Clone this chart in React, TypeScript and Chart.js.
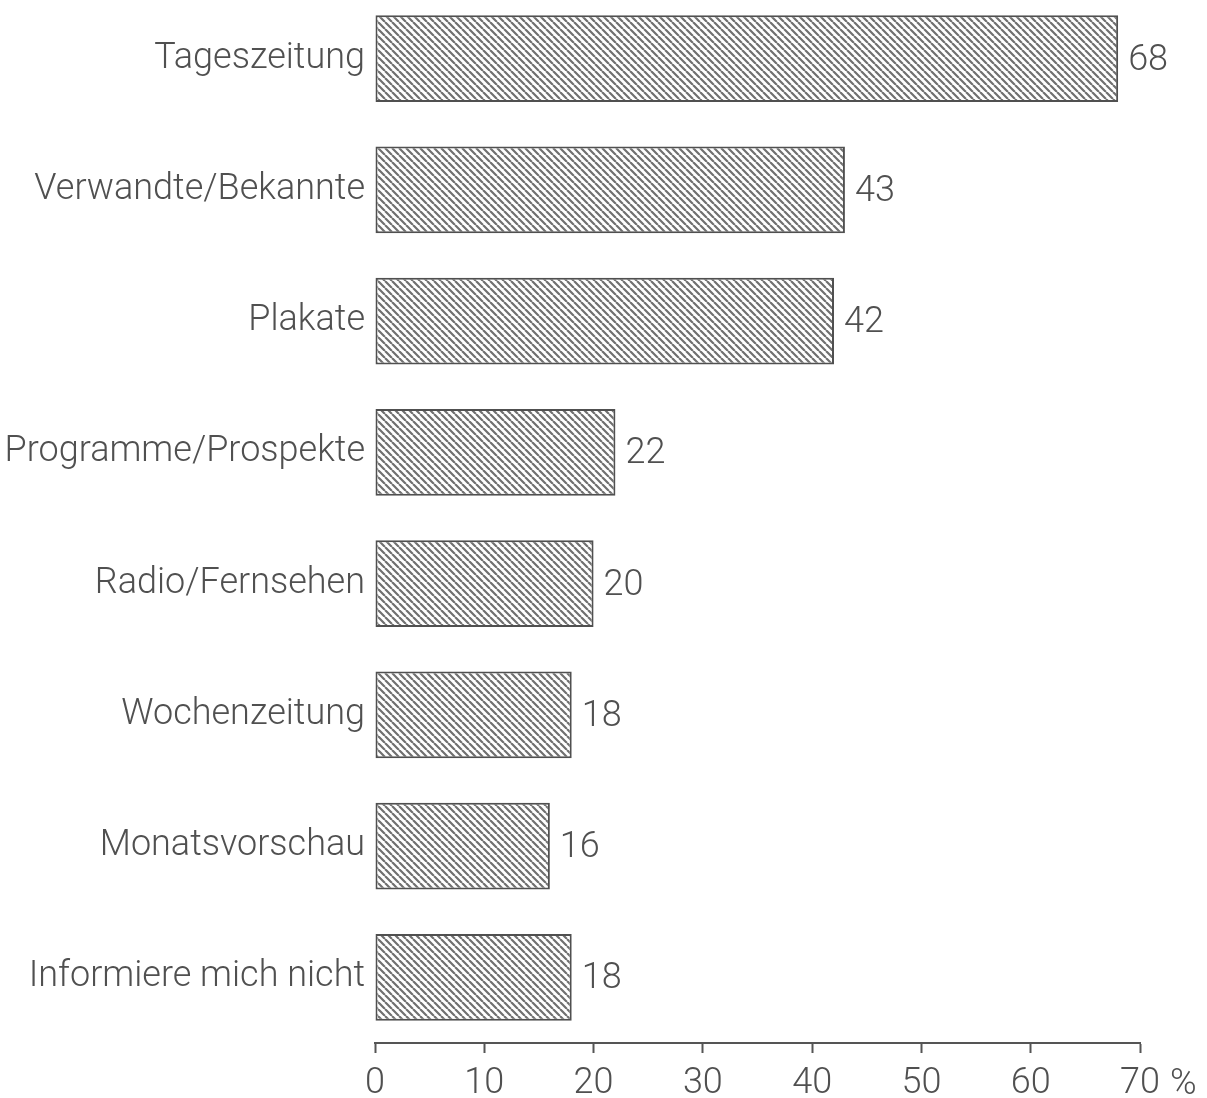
import React, { useEffect, useRef } from "react";
import { Chart, registerables } from "chart.js";

Chart.register(...registerables);

const categories = [
  "Tageszeitung",
  "Verwandte/Bekannte",
  "Plakate",
  "Programme/Prospekte",
  "Radio/Fernsehen",
  "Wochenzeitung",
  "Monatsvorschau",
  "Informiere mich nicht",
];
const values = [68, 43, 42, 22, 20, 18, 16, 18];
const xTicks = [0, 10, 20, 30, 40, 50, 60, 70];
const unitLabel = "%";

const INK = "#505050";
const FONT = "Roboto";

function makeHatch(): CanvasPattern | string {
  const s = 7;
  const c = document.createElement("canvas");
  c.width = s;
  c.height = s;
  const g = c.getContext("2d");
  if (!g) return "#999";
  g.fillStyle = "#ffffff";
  g.fillRect(0, 0, s, s);
  g.strokeStyle = "#707070";
  g.lineWidth = 2.2;
  g.beginPath();
  for (const k of [-s, 0, s]) {
    g.moveTo(k, 0);
    g.lineTo(k + s, s);
  }
  g.stroke();
  const p = g.createPattern(c, "repeat");
  return p || "#999";
}

const valueLabels = {
  id: "valueLabels",
  afterDatasetsDraw(chart: any) {
    const ctx = chart.ctx;
    const meta = chart.getDatasetMeta(0);
    ctx.save();
    ctx.fillStyle = INK;
    ctx.font = `300 36px ${FONT}`;
    ctx.textAlign = "left";
    ctx.textBaseline = "middle";
    meta.data.forEach((bar: any, i: number) => {
      ctx.fillText(String(values[i]), bar.x + 10, bar.y + 2);
    });
    const xs = chart.scales.x;
    const px = xs.getPixelForValue(xTicks[xTicks.length - 1]);
    ctx.textBaseline = "top";
    ctx.fillText(unitLabel, px + 30, xs.top + 24);
    ctx.restore();
  },
};

export default function App() {
  const ref = useRef<HTMLCanvasElement | null>(null);
  useEffect(() => {
    if (!ref.current) return;
    const hatch = makeHatch();
    const chart = new Chart(ref.current, {
      type: "bar",
      data: {
        labels: categories,
        datasets: [
          {
            data: values,
            backgroundColor: hatch as any,
            borderColor: "#505050",
            borderWidth: 2,
            borderSkipped: false,
            categoryPercentage: 1,
            barPercentage: 0.66,
          },
        ],
      },
      options: {
        indexAxis: "y",
        animation: false,
        responsive: false,
        maintainAspectRatio: false,
        layout: { padding: { top: 13, right: 67, left: 0, bottom: 0 } },
        plugins: {
          legend: { display: false },
          tooltip: { enabled: false },
        },
        scales: {
          x: {
            min: 0,
            max: 70,
            afterBuildTicks: (axis: any) => {
              axis.ticks = xTicks.map((v) => ({ value: v }));
            },
            afterFit: (axis: any) => {
              axis.height = 55;
              axis.paddingLeft = 0;
              axis.paddingRight = 0;
            },
            grid: {
              drawOnChartArea: false,
              drawTicks: true,
              tickLength: 10,
              tickWidth: 2,
              tickColor: "#555",
            },
            border: { display: true, color: "#555", width: 2 },
            ticks: {
              color: INK,
              padding: 9,
              font: { family: FONT, size: 36, weight: "300" as any },
              maxRotation: 0,
            },
          },
          y: {
            afterFit: (axis: any) => {
              axis.width = 375;
              axis.paddingTop = 0;
              axis.paddingBottom = 0;
            },
            grid: { display: false, drawTicks: false },
            border: { display: false },
            ticks: {
              color: INK,
              padding: 10,
              font: { family: FONT, size: 36, weight: "300" as any },
            },
          },
        },
      },
      plugins: [valueLabels],
    });
    return () => chart.destroy();
  }, []);
  return (
    <div style={{ position: "absolute", top: -20, left: 0, width: 1207, height: 1118, background: "#fff" }}>
      <canvas ref={ref} width={1207} height={1118} style={{ width: 1207, height: 1118 }} />
    </div>
  );
}
